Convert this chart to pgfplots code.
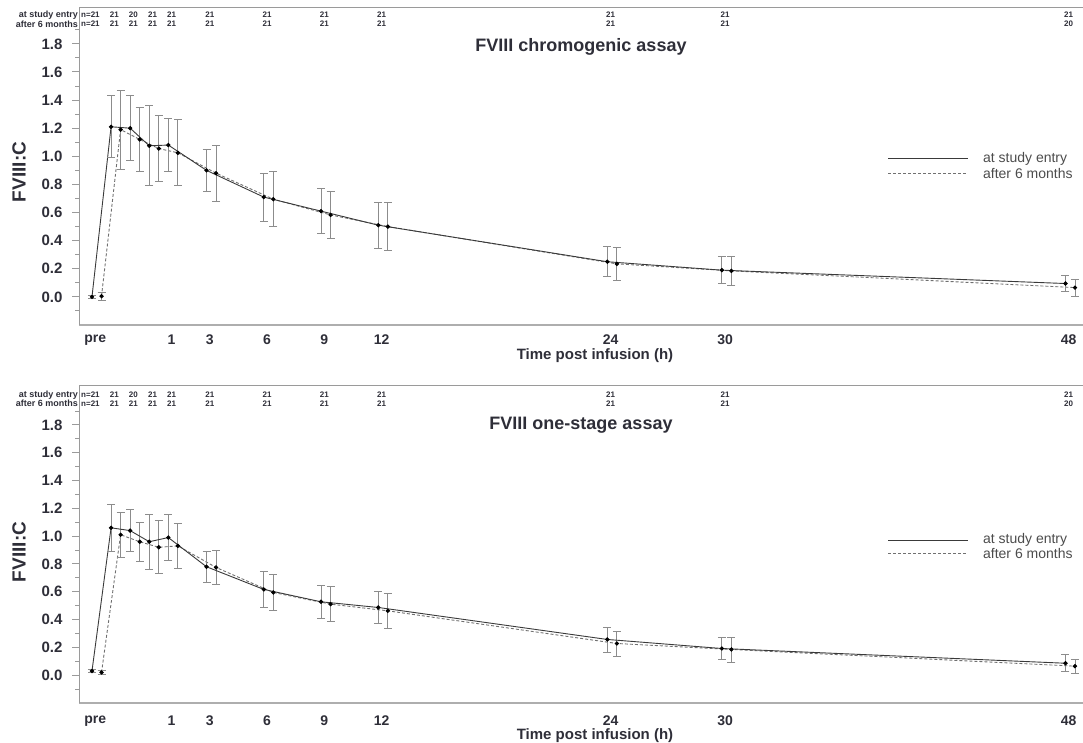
\documentclass[border=0pt]{standalone}
\usepackage{fontspec}
\setmainfont{Liberation Sans}
\usepackage{pgfplots}
\usepackage{pgfplotstable}
\pgfplotsset{compat=1.18}

% chromogenic assay, mean and SD; x is plot position (pre = -3)
\pgfplotstableread{
x      y      e
-3.17  0.000  0.010
-2.17  1.210  0.220
-1.17  1.200  0.230
-0.17  1.075  0.285
0.83   1.080  0.190
2.83   0.900  0.150
5.83   0.710  0.170
8.83   0.610  0.160
11.83  0.510  0.165
23.83  0.250  0.107
29.83  0.190  0.095
47.83  0.095  0.055
}\chromEntry
\pgfplotstableread{
x      y      e
-2.67  0.005  0.030
-1.67  1.190  0.280
-0.67  1.120  0.230
0.33   1.055  0.235
1.33   1.025  0.235
3.33   0.880  0.200
6.33   0.695  0.195
9.33   0.583  0.170
12.33  0.500  0.170
24.33  0.235  0.115
30.33  0.185  0.100
48.33  0.066  0.060
}\chromSix
% one-stage assay
\pgfplotstableread{
x      y      e
-3.17  0.030  0.010
-2.17  1.060  0.167
-1.17  1.040  0.150
-0.17  0.960  0.200
0.83   0.990  0.165
2.83   0.780  0.110
5.83   0.617  0.130
8.83   0.528  0.116
11.83  0.487  0.114
23.83  0.257  0.090
29.83  0.192  0.078
47.83  0.086  0.060
}\oneEntry
\pgfplotstableread{
x      y      e
-2.67  0.020  0.015
-1.67  1.010  0.160
-0.67  0.960  0.140
0.33   0.920  0.190
1.33   0.930  0.165
3.33   0.775  0.120
6.33   0.595  0.130
9.33   0.511  0.126
12.33  0.463  0.125
24.33  0.228  0.090
30.33  0.185  0.090
48.33  0.065  0.050
}\oneSix

\definecolor{txt}{HTML}{2E2E38}
\definecolor{lineA}{HTML}{3A3A3A}
\definecolor{lineB}{HTML}{707070}
\definecolor{barcol}{HTML}{8C8C8C}
\definecolor{axcol}{HTML}{9A9A9A}

\pgfplotsset{
  pkpanel/.style={
    scale only axis, width=1004pt, height=317pt,
    xmin=-3.85, xmax=48.75, ymin=-0.2,
    clip=false,
    axis x line*=bottom, axis y line*=left,
    x axis line style={line width=2.4pt, color=axcol!80},
    y axis line style={line width=1pt, color=axcol},
    xtick={-3,1,3,6,9,12,24,30,48},
    xticklabels={pre,1,3,6,9,12,24,30,48},
    major x tick style={draw=none},
    ytick={0,0.2,0.4,0.6,0.8,1.0,1.2,1.4,1.6,1.8},
    minor ytick={-0.1,0.1,0.3,0.5,0.7,0.9,1.1,1.3,1.5,1.7,1.9},
    tick align=outside,
    major tick length=7pt, minor tick length=4pt,
    y tick style={axcol, line width=1pt},
    yticklabel style={font=\fontsize{15}{15}\selectfont\bfseries, text=txt, xshift=-6pt,
      /pgf/number format/.cd, fixed, fixed zerofill, precision=1, assume math mode=true},
    xticklabel style={font=\fontsize{14}{14}\selectfont\bfseries, text=txt, inner sep=1pt},
  },
  entry/.style={lineA, line width=0.9pt, mark=*, mark size=1.7pt,
    mark options={solid, fill=black, draw=black},
    error bars/.cd, y dir=both, y explicit,
    error bar style={barcol, line width=0.8pt, solid},
    error mark options={rotate=90, mark size=4pt, barcol, line width=0.8pt}},
  six/.style={lineB, line width=0.9pt, dash pattern=on 3pt off 2pt, mark=*, mark size=1.7pt,
    mark options={solid, fill=black, draw=black},
    error bars/.cd, y dir=both, y explicit,
    error bar style={barcol, line width=0.8pt, solid},
    error mark options={rotate=90, mark size=4pt, barcol, line width=0.8pt}},
}

\tikzset{hdr/.style={font=\fontsize{8}{8}\selectfont\bfseries, text=txt, inner sep=0pt},
  hdrlab/.style={font=\fontsize{9}{9}\selectfont\bfseries, text=txt, inner sep=0pt},
  axtitle/.style={font=\fontsize{15}{15}\selectfont\bfseries, text=txt, inner sep=0pt}}

\begin{document}
\begin{tikzpicture}
\useasboundingbox (0,0) rectangle (1083pt,742pt);

% ---------- top panel ----------
\begin{axis}[pkpanel, at={(79pt,417pt)}, anchor=south west, ymax=2.055,
    xticklabel style={yshift=-2pt}]
\addplot[six] table[x=x, y=y, y error=e] {\chromSix};
\addplot[entry] table[x=x, y=y, y error=e] {\chromEntry};
\node[font=\fontsize{18}{18}\selectfont\bfseries, text=txt] at (axis description cs:0.5,0.877) {FVIII chromogenic assay};
\draw[lineA, line width=1pt] (axis description cs:0.806,0.524) -- (axis description cs:0.885,0.524);
\draw[lineB, line width=1pt, dash pattern=on 3pt off 2pt] (axis description cs:0.806,0.479) -- (axis description cs:0.885,0.479);
\node[anchor=west, font=\fontsize{14}{14}\selectfont, text=black!70] at (axis description cs:0.897,0.524) {at study entry};
\node[anchor=west, font=\fontsize{14}{14}\selectfont, text=black!70] at (axis description cs:0.897,0.479) {after 6 months};
\end{axis}
\draw[axcol, line width=1pt] (79pt,734pt) -- (1083pt,734pt);

% ---------- bottom panel ----------
\begin{axis}[pkpanel, at={(79pt,39pt)}, anchor=south west, ymax=2.08,
    xticklabel style={yshift=-5pt}]
\addplot[six] table[x=x, y=y, y error=e] {\oneSix};
\addplot[entry] table[x=x, y=y, y error=e] {\oneEntry};
\node[font=\fontsize{18}{18}\selectfont\bfseries, text=txt] at (axis description cs:0.5,0.877) {FVIII one-stage assay};
\draw[lineA, line width=1pt] (axis description cs:0.806,0.514) -- (axis description cs:0.885,0.514);
\draw[lineB, line width=1pt, dash pattern=on 3pt off 2pt] (axis description cs:0.806,0.473) -- (axis description cs:0.885,0.473);
\node[anchor=west, font=\fontsize{14}{14}\selectfont, text=black!70] at (axis description cs:0.897,0.514) {at study entry};
\node[anchor=west, font=\fontsize{14}{14}\selectfont, text=black!70] at (axis description cs:0.897,0.473) {after 6 months};
\end{axis}
\draw[axcol, line width=1pt] (79pt,356pt) -- (1083pt,356pt);

% axis titles
\node[rotate=90, font=\fontsize{19}{19}\selectfont\bfseries, text=txt] at (19pt,570pt) {FVIII:C};
\node[rotate=90, font=\fontsize{19}{19}\selectfont\bfseries, text=txt] at (19pt,190pt) {FVIII:C};
\node[axtitle] at (595pt,386pt) {Time post infusion (h)};
\node[axtitle] at (595pt,6pt) {Time post infusion (h)};

% numbers of patients above each time point
\foreach \ya/\yb in {727/718, 347/338.5} {
  \node[hdrlab, anchor=east] at (78pt,\ya pt) {at study entry};
  \node[hdrlab, anchor=east] at (78pt,\yb pt) {after 6 months};
  \node[hdr, anchor=west] at (81pt,\ya pt) {n=21};
  \node[hdr, anchor=west] at (81pt,\yb pt) {n=21};
}
\foreach \t/\a/\b/\c/\d in {-2/21/21/21/21, -1/20/21/20/21, 0/21/21/21/21, 1/21/21/21/21,
    3/21/21/21/21, 6/21/21/21/21, 9/21/21/21/21, 12/21/21/21/21,
    24/21/21/21/21, 30/21/21/21/21, 48/21/20/21/20} {
  \node[hdr] at ({(152.5+19.087*\t)*1pt},727pt) {\a};
  \node[hdr] at ({(152.5+19.087*\t)*1pt},718pt) {\b};
  \node[hdr] at ({(152.5+19.087*\t)*1pt},347pt) {\c};
  \node[hdr] at ({(152.5+19.087*\t)*1pt},338.5pt) {\d};
}
\end{tikzpicture}
\end{document}
